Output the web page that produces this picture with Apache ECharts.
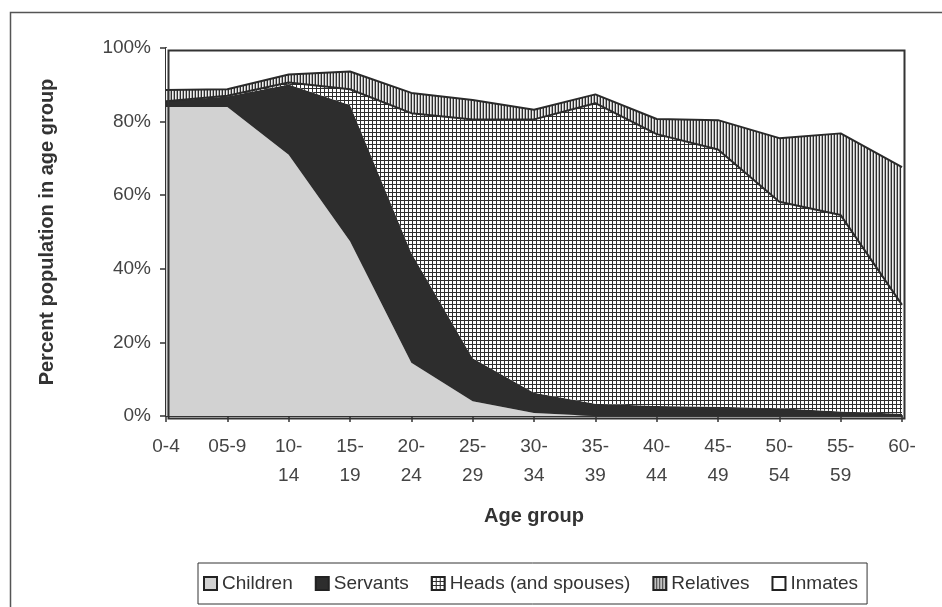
<!DOCTYPE html>
<html>
<head>
<meta charset="utf-8">
<script src="https://cdn.jsdelivr.net/npm/echarts@6/dist/echarts.min.js"></script>
<style>
  html, body { margin: 0; padding: 0; background: #fff; }
  #chart { width: 942px; height: 607px; }
</style>
</head>
<body>
<div id="chart"></div>
<script>
// ---- data (percent of population in each age group) ----
const ageGroups = ['0-4', '05-9', '10-\n14', '15-\n19', '20-\n24', '25-\n29', '30-\n34', '35-\n39', '40-\n44', '45-\n49', '50-\n54', '55-\n59', '60-'];
const children  = [84.0, 84.0, 71.0, 47.5, 14.5, 4.0, 0.8, 0.0, 0.0, 0.0, 0.0, 0.0, 0.0];
const servants  = [1.5, 2.8, 19.1, 37.0, 29.8, 11.7, 5.5, 3.3, 2.7, 2.5, 2.1, 1.2, 0.6];
const heads     = [0.0, 0.2, 0.5, 4.3, 38.0, 64.9, 74.3, 81.7, 73.9, 69.9, 56.1, 53.4, 29.6];
const relatives = [3.1, 1.8, 2.2, 4.8, 5.5, 5.3, 2.6, 2.4, 4.1, 8.0, 17.3, 22.2, 37.4];
const inmates   = children.map((c, i) => +(100 - c - servants[i] - heads[i] - relatives[i]).toFixed(1));
const yTicks = [0, 20, 40, 60, 80, 100];
const seriesNames = ['Children', 'Servants', 'Heads (and spouses)', 'Relatives', 'Inmates'];

// ---- fill patterns ----
function gridPattern() {
  const c = document.createElement('canvas');
  c.width = 4; c.height = 4;
  const g = c.getContext('2d');
  g.fillStyle = '#ffffff'; g.fillRect(0, 0, 4, 4);
  g.fillStyle = '#2e2e2e';
  g.fillRect(0, 0, 4, 1);
  g.fillRect(0, 0, 1, 4);
  return { image: c, repeat: 'repeat' };
}
function stripePattern() {
  const c = document.createElement('canvas');
  c.width = 3; c.height = 3;
  const g = c.getContext('2d');
  g.fillStyle = '#eeeeee'; g.fillRect(0, 0, 3, 3);
  g.fillStyle = '#2e2e2e'; g.fillRect(0, 0, 1, 3);
  g.fillStyle = '#a8a8a8'; g.fillRect(2, 0, 1, 3);
  return { image: c, repeat: 'repeat' };
}
const fills = ['#d2d2d2', '#2d2d2d', gridPattern(), stripePattern(), '#ffffff'];
const values = [children, servants, heads, relatives, inmates];
const edgeWidth = [0, 0, 2, 2, 0];

const font = 'Liberation Sans, Arial, sans-serif';
const chart = echarts.init(document.getElementById('chart'), null, { renderer: 'canvas' });

const G = { left: 166, top: 48, width: 736, height: 368 };

chart.setOption({
  animation: false,
  backgroundColor: '#ffffff',
  textStyle: { fontFamily: font },
  grid: { left: G.left, top: G.top, width: G.width, height: G.height, containLabel: false },
  legend: {
    left: 198, top: 563,
    padding: [11, 9, 11, 5],
    itemGap: 22,
    itemWidth: 13, itemHeight: 13,
    borderColor: '#333', borderWidth: 1,
    textStyle: { fontFamily: font, fontSize: 19, color: '#333' },
    data: seriesNames.map((n, i) => ({
      name: n, icon: 'rect',
      itemStyle: { color: fills[i], borderColor: '#222', borderWidth: 2 }
    }))
  },
  xAxis: {
    type: 'category',
    data: ageGroups,
    boundaryGap: false,
    name: 'Age group',
    nameLocation: 'middle',
    nameGap: 90,
    nameTextStyle: { fontFamily: font, fontSize: 20, fontWeight: 'bold', color: '#333' },
    axisLine: { lineStyle: { color: '#333', width: 2 } },
    axisTick: { show: true, length: 6, alignWithLabel: true, lineStyle: { color: '#333', width: 1.5 } },
    axisLabel: { fontSize: 19, color: '#444', lineHeight: 29, margin: 16, interval: 0 },
    splitLine: { show: false }
  },
  yAxis: {
    type: 'value',
    min: 0, max: 100, interval: 20,
    name: 'Percent population in age group',
    nameLocation: 'middle',
    nameGap: 109,
    nameRotate: 90,
    nameTextStyle: { fontFamily: font, fontSize: 20, fontWeight: 'bold', color: '#333' },
    axisLine: { show: true, lineStyle: { color: '#333', width: 2 } },
    axisTick: { show: true, length: 6, lineStyle: { color: '#333', width: 1.5 } },
    axisLabel: { fontSize: 19, color: '#444', margin: 15, formatter: v => yTicks.includes(v) ? v + '%' : '' },
    splitLine: { show: false }
  },
  series: seriesNames.map((n, i) => ({
    name: n,
    type: 'line',
    stack: 'total',
    data: values[i],
    symbol: 'none',
    smooth: false,
    lineStyle: { color: '#2a2a2a', width: edgeWidth[i] },
    itemStyle: { color: i === 4 ? '#ffffff' : '#2a2a2a' },
    areaStyle: { color: fills[i], opacity: 1 },
    z: 2
  })),
  graphic: [
    { type: 'rect', left: 8, top: 10, shape: { width: 960, height: 620 }, style: { fill: null, stroke: '#555', lineWidth: 1.5 }, silent: true, z: -1 },
    { type: 'rect', left: G.left, top: G.top, shape: { width: G.width, height: G.height }, style: { fill: null, stroke: '#333', lineWidth: 2 }, silent: true, z: 100 }
  ]
});
</script>
</body>
</html>
